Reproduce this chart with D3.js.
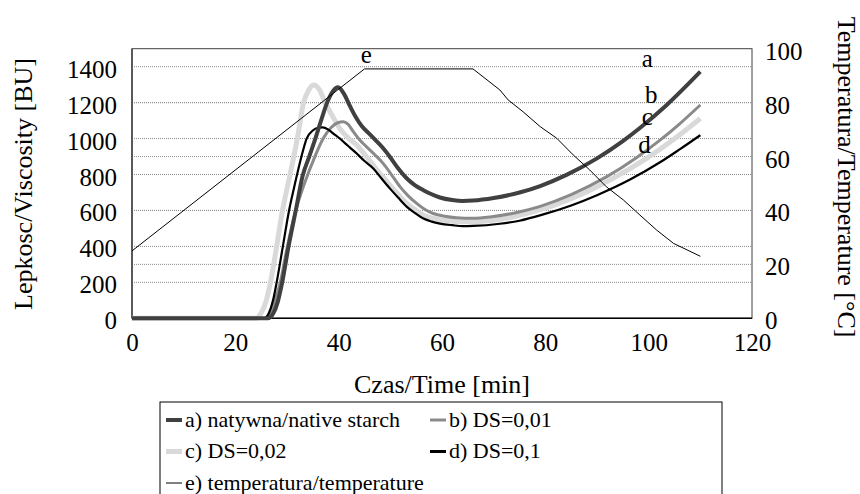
<!DOCTYPE html>
<html>
<head>
<meta charset="utf-8">
<script src="https://cdn.jsdelivr.net/npm/d3@7"></script>
<style>
  html, body { margin: 0; padding: 0; background: #fff; }
  svg { display: block; }
  svg text { font-family: "Liberation Serif", "Times New Roman", "DejaVu Serif", serif; }
</style>
</head>
<body>
<svg id="chart" width="860" height="494"></svg>
<script>
// ---------- data ----------
const timeA = [0, 26.3, 27.3, 28.2, 29.0, 30.3, 31.7, 33.0, 34.3, 35.6, 36.7, 37.7, 38.8, 39.9, 41.0, 42.2, 43.3, 44.5, 45.8, 47.0, 48.5, 49.9, 51.5, 53.2, 54.8, 56.4, 58.0, 59.6, 62.0, 64.0, 66.0, 70.0, 75.0, 79.0, 84.1, 90.0, 95.0, 98.3, 103.5, 110];
const viscA = [0, 0, 25, 90, 190, 400, 600, 790, 900, 1010, 1110, 1195, 1260, 1285, 1250, 1180, 1120, 1068, 1030, 995, 950, 899, 835, 778, 740, 713, 690, 672, 658, 653, 655, 669, 700, 736, 798, 890, 986, 1059, 1187, 1372];

const timeB = [0, 25.7, 26.7, 27.7, 28.7, 30.0, 31.6, 33.5, 35.4, 37.0, 38.5, 39.8, 40.9, 41.8, 42.8, 44.0, 45.4, 47.0, 48.6, 50.2, 51.9, 53.5, 55.1, 56.7, 58.3, 60.5, 62.8, 66.0, 69.3, 74.5, 79.0, 85.0, 91.9, 97.7, 102.2, 106.0, 110];
const viscB = [0, 0, 30, 100, 200, 390, 590, 760, 900, 1000, 1060, 1088, 1094, 1080, 1040, 995, 954, 910, 862, 800, 731, 680, 639, 605, 583, 568, 560, 557, 564, 589, 623, 688, 788, 895, 991, 1082, 1187];

const timeC = [0, 24.0, 25.0, 26.0, 26.8, 28.0, 29.0, 30.6, 32.0, 33.2, 34.2, 35.1, 36.2, 37.4, 38.9, 40.2, 41.8, 43.5, 45.1, 46.7, 48.3, 49.9, 51.5, 53.2, 54.8, 56.4, 58.0, 59.6, 62.0, 64.0, 67.0, 71.2, 77.0, 82.0, 87.0, 93.2, 99.6, 104.8, 110];
const viscC = [0, 0, 30, 100, 200, 400, 580, 800, 1000, 1200, 1270, 1298, 1275, 1200, 1120, 1057, 1005, 964, 910, 852, 795, 741, 690, 639, 605, 574, 558, 548, 540, 537, 539, 550, 588, 632, 690, 780, 890, 995, 1112];

const timeD = [0, 25.5, 26.5, 27.3, 28.0, 29.2, 30.4, 31.4, 32.8, 33.8, 35.0, 36.0, 36.9, 38.0, 39.3, 40.2, 41.2, 42.2, 43.5, 45.0, 46.7, 48.3, 49.9, 51.5, 53.2, 54.8, 56.4, 58.0, 59.6, 62.0, 64.0, 66.0, 71.2, 75.0, 79.6, 85.0, 90.0, 96.4, 102.2, 106.0, 110];
const viscD = [0, 0, 30, 100, 200, 400, 600, 731, 900, 1000, 1045, 1060, 1062, 1050, 1020, 1001, 975, 950, 917, 875, 834, 778, 723, 672, 620, 585, 555, 538, 527, 518, 513, 514, 526, 543, 578, 628, 685, 772, 868, 940, 1019];

const tempTime = [0, 45, 66, 71.2, 72.8, 75.7, 79.0, 82.2, 85.4, 88.6, 91.8, 95.1, 98.3, 101.5, 104.8, 110];
const tempValues = [25, 92.5, 92.5, 84.7, 81.0, 76.6, 71.1, 66.8, 60.6, 55.0, 48.8, 43.9, 38.3, 32.8, 27.8, 23];

const xTicks = [0, 20, 40, 60, 80, 100, 120];
const leftTicks = [0, 200, 400, 600, 800, 1000, 1200, 1400];
const rightTicks = [0, 20, 40, 60, 80, 100];

const seriesNames = ["a) natywna/native starch", "b) DS=0,01", "c) DS=0,02", "d) DS=0,1", "e) temperatura/temperature"];
const curveLabels = ["a", "b", "c", "d", "e"];

// ---------- layout ----------
const FONT = '"Liberation Serif", "Times New Roman", serif';
const svg = d3.select("#chart");
const L = 132, R = 752, T = 48.7, B = 318.3;
const x = d3.scaleLinear().domain([0, 120]).range([L, R]);
const yL = d3.scaleLinear().domain([0, 1500]).range([B, T]);
const yR = d3.scaleLinear().domain([0, 100]).range([B, T]);

// gridlines
const grid = svg.append("g");
leftTicks.filter(v => v > 0).forEach(v => {
  grid.append("line").attr("x1", L).attr("x2", R).attr("y1", yL(v)).attr("y2", yL(v))
    .attr("stroke", "#8c8c8c").attr("stroke-width", 1).attr("stroke-dasharray", "1 1");
});
rightTicks.filter(v => v > 0 && v < 100).forEach(v => {
  grid.append("line").attr("x1", L).attr("x2", R).attr("y1", yR(v)).attr("y2", yR(v))
    .attr("stroke", "#8c8c8c").attr("stroke-width", 1).attr("stroke-dasharray", "1 1");
});

// frame
svg.append("rect").attr("x", L).attr("y", T).attr("width", R - L).attr("height", B - T)
  .attr("fill", "none").attr("stroke", "#404040").attr("stroke-width", 1);
svg.append("line").attr("x1", L).attr("x2", L).attr("y1", T).attr("y2", B)
  .attr("stroke", "#595959").attr("stroke-width", 2);

// axes
const fontSize = 25;
const axL = svg.append("g").attr("transform", `translate(${L},0)`)
  .call(d3.axisLeft(yL).tickValues(leftTicks).tickSize(0).tickPadding(15).tickFormat(d3.format("d")));
const axR = svg.append("g").attr("transform", `translate(${R},0)`)
  .call(d3.axisRight(yR).tickValues(rightTicks).tickSize(0).tickPadding(13).tickFormat(d3.format("d")));
const axB = svg.append("g").attr("transform", `translate(0,${B})`)
  .call(d3.axisBottom(x).tickValues(xTicks).tickSize(0).tickPadding(15).tickFormat(d3.format("d")));
[axL, axR, axB].forEach(a => {
  a.attr("font-family", FONT).attr("font-size", fontSize);
  a.select(".domain").remove();
  a.selectAll("text").attr("font-family", FONT).attr("font-size", fontSize).attr("fill", "#000");
});
axL.selectAll("text").attr("dy", "0.42em");
axR.selectAll("text").attr("dy", "0.42em");

// bottom axis line
svg.append("line").attr("x1", L).attr("x2", R).attr("y1", B).attr("y2", B)
  .attr("stroke", "#000").attr("stroke-width", 1.5);

// axis titles
svg.append("text").attr("transform", `translate(32,184) rotate(-90)`).attr("font-family", FONT)
  .attr("text-anchor", "middle").attr("font-size", 26).text("Lepkosc/Viscosity [BU]");
svg.append("text").attr("transform", `translate(838,177) rotate(90)`).attr("font-family", FONT)
  .attr("text-anchor", "middle").attr("font-size", 26).text("Temperatura/Temperature [°C]");
svg.append("text").attr("x", (L + R) / 2).attr("y", 393).attr("text-anchor", "middle").attr("font-family", FONT)
  .attr("font-size", 26).text("Czas/Time [min]");

// series
const styles = [
  { color: "#404040", width: 4 },
  { color: "#8a8a8a", width: 3 },
  { color: "#d9d9d9", width: 5 },
  { color: "#000000", width: 2.2 },
  { color: "#000000", width: 1 }
];
const visc = [[timeA, viscA], [timeB, viscB], [timeC, viscC], [timeD, viscD]];
const line = d3.line().x(d => x(d[0])).y(d => yL(d[1])).curve(d3.curveMonotoneX);
const drawOrder = [2, 1, 3, 0];
drawOrder.forEach(i => {
  const pts = visc[i][0].map((t, k) => [t, visc[i][1][k]]);
  svg.append("path").datum(pts).attr("d", line).attr("fill", "none")
    .attr("stroke", styles[i].color).attr("stroke-width", styles[i].width)
    .attr("stroke-linejoin", "round");
});
const tempLine = d3.line().x(d => x(d[0])).y(d => yR(d[1]));
svg.append("path").datum(tempTime.map((t, k) => [t, tempValues[k]])).attr("d", tempLine)
  .attr("fill", "none").attr("stroke", "#000").attr("stroke-width", 1);

// curve labels
const labelPos = [[641.7, 66.7], [645, 103], [641.7, 125], [638.3, 153.3], [360.7, 63.3]];
curveLabels.forEach((s, i) => {
  svg.append("text").attr("x", labelPos[i][0]).attr("y", labelPos[i][1]).attr("font-family", FONT)
    .attr("font-size", 25).text(s);
});

// legend
const lg = svg.append("g");
lg.append("rect").attr("x", 160).attr("y", 402).attr("width", 562).attr("height", 110)
  .attr("fill", "#fff").attr("stroke", "#000").attr("stroke-width", 1);
const legPos = [[166, 426.5], [430, 426.5], [166, 458], [430, 458], [166, 489.5]];
const legWidths = [4, 3, 5, 3, 1];
seriesNames.forEach((n, i) => {
  const [lx, ly] = legPos[i];
  lg.append("line").attr("x1", lx).attr("x2", lx + 16).attr("y1", ly - 6.5).attr("y2", ly - 6.5)
    .attr("stroke", styles[i].color).attr("stroke-width", legWidths[i]);
  lg.append("text").attr("x", lx + 19).attr("y", ly).attr("font-family", FONT).attr("font-size", 22).text(n);
});
</script>
</body>
</html>
